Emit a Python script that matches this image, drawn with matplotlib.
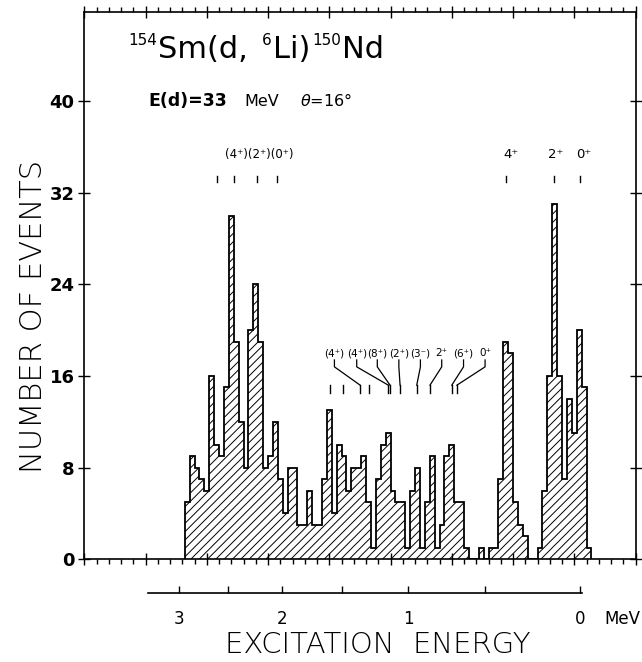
import numpy as np
import matplotlib
matplotlib.use('Agg')
import matplotlib.pyplot as plt
from matplotlib.ticker import MultipleLocator, FixedLocator

# ---------------- data ----------------
counts = [5, 9, 8, 7, 6, 16, 10, 9, 15, 30, 19, 12, 8, 20, 24, 19, 8, 9, 12, 7,
          4, 8, 8, 3, 3, 6, 3, 3, 7, 13, 4, 10, 9, 6, 8, 8, 9, 5, 1, 7,
          10, 11, 6, 5, 5, 1, 6, 8, 1, 5, 9, 1, 3, 9, 10, 5, 5, 1, 0, 0,
          1, 0, 1, 1, 7, 19, 18, 5, 3, 2, 0, 0, 1, 6, 16, 31, 16, 7, 14, 11,
          20, 15, 1]
first_channel = 41
channels_per_bin = 2

y_ticks = [0, 8, 16, 24, 32, 40]
y_tick_labels = ['0', '8', '16', '24', '32', '40']

energy_tick_channels = [38.7, 58.7, 80.7, 105.0, 132.2, 163.6, 202.4]
energy_tick_labels = ['3', '', '2', '', '1', '', '0']
energy_axis_span = [26.2, 203.1]

top_state_channels = [54.1, 61.2, 70.4, 78.6]
top_state_text = '(4\u207a)(2\u207a)(0\u207a)'
top_state_text_channel = 71.4

gs_state_channels = [172.2, 191.8, 202.4]
gs_state_labels = ['4\u207a', '2\u207a', '0\u207a']
gs_label_channels = [174.3, 192.6, 204.0]

mid_tick_channels = [100.3, 105.8, 112.6, 116.4, 124.1, 124.8, 128.9, 135.7, 141.1, 150.0, 152.1]
mid_labels = ['(4\u207a)', '(4\u207a)', '(8\u207a)', '(2\u207a)', '(3\u207b)', '2\u207a', '(6\u207a)', '0\u207a']
mid_label_channels = [102.1, 111.2, 119.6, 128.4, 137.2, 145.9, 154.8, 163.6]
mid_link_channels = [112.6, 124.1, 124.8, 128.9, 135.7, 141.1, 150.0, 152.1]

title_pieces = [('154', 'sup'), ('Sm(d,', 'main'), ('6', 'sup'), ('Li)', 'main'),
                ('150', 'sup'), ('Nd', 'main')]

# ---------------- figure ----------------
plt.rcParams['hatch.linewidth'] = 0.7
plt.rcParams['font.family'] = ['DejaVu Sans']

W, H = 642, 662
fig = plt.figure(figsize=(W / 100, H / 100), dpi=100)
renderer = fig.canvas.get_renderer()

L, R, T, B = 84.3, 635.5, 11.7, 559.3
ax = fig.add_axes([L / W, 1 - B / H, (R - L) / W, (B - T) / H])

edges = first_channel + channels_per_bin * np.arange(len(counts) + 1)
ax.bar(edges[:-1], counts, width=channels_per_bin, align='edge',
       facecolor='white', edgecolor='black', hatch='////', linewidth=0)
ax.stairs(counts, edges, baseline=0, color='black', linewidth=1.3)

ax.set_xlim(0, 225)
ax.set_ylim(0, 47.8)

for s in ax.spines.values():
    s.set_linewidth(1.2)

ax.xaxis.set_major_locator(MultipleLocator(25))
ax.xaxis.set_minor_locator(MultipleLocator(5))
ax.tick_params(axis='x', which='minor', direction='out', length=3.5, width=1.0,
               top=True, bottom=True)
ax.tick_params(axis='x', which='major', direction='inout', length=8, width=1.0,
               top=True, bottom=True, labelbottom=False)
ax.yaxis.set_major_locator(FixedLocator(y_ticks))
ax.set_yticklabels(y_tick_labels)
ax.tick_params(axis='y', which='major', direction='inout', length=8, width=1.0,
               left=True, right=True, labelsize=13, pad=3)
for lab in ax.get_yticklabels():
    lab.set_fontweight('bold')

# annotations: upper states
for c in top_state_channels:
    ax.plot([c, c], [32.9, 33.5], color='black', lw=1.0)
ax.text(top_state_text_channel, 35.3, top_state_text, ha='center', va='center', fontsize=8.5)

for c in gs_state_channels:
    ax.plot([c, c], [32.9, 33.5], color='black', lw=1.0)
for c, t in zip(gs_label_channels, gs_state_labels):
    ax.text(c, 35.3, t, ha='center', va='center', fontsize=9.5)

# middle states
for c in mid_tick_channels:
    ax.plot([c, c], [14.5, 15.2], color='black', lw=1.0)
for lc, tc, t in zip(mid_label_channels, mid_link_channels, mid_labels):
    ax.plot([lc, lc, tc], [17.4, 16.8, 15.2], color='black', lw=0.9)
    ax.text(lc, 17.55, t, ha='center', va='bottom', fontsize=7.5)

# title built from pieces
x_px = 128.0
baseline_px = 58.0
for txt, kind in title_pieces:
    if kind == 'sup':
        t = fig.text(x_px / W, 1 - (baseline_px - 13) / H, txt, fontsize=11,
                     ha='left', va='baseline')
    else:
        t = fig.text(x_px / W, 1 - baseline_px / H, txt, fontsize=22,
                     ha='left', va='baseline')
    bb = t.get_window_extent(renderer=renderer)
    x_px += bb.width + (1 if kind == 'sup' else 2)
    if txt == 'Sm(d,':
        x_px += 12

fig.text(148 / W, 1 - 101 / H, 'E(d)=33', ha='left', va='center', fontsize=12.5, fontweight='bold')
fig.text(244 / W, 1 - 101 / H, 'MeV', ha='left', va='center', fontsize=11.5)
fig.text(300 / W, 1 - 101 / H, r'$\theta$=16°', ha='left', va='center', fontsize=11.5)

fig.text(34 / W, 1 - 316 / H, 'NUMBER OF EVENTS', rotation=90,
         ha='center', va='center', fontsize=22, fontweight='light')

# excitation energy axis
ax2 = fig.add_axes([L / W, 1 - 593 / H, (R - L) / W, 0.0001])
ax2.set_xlim(0, 225)
ax2.set_ylim(0, 1)
for k in ['left', 'right', 'top']:
    ax2.spines[k].set_visible(False)
ax2.spines['bottom'].set_bounds(*energy_axis_span)
ax2.spines['bottom'].set_linewidth(1.2)
ax2.set_yticks([])
ax2.set_xticks(energy_tick_channels)
ax2.set_xticklabels(energy_tick_labels)
ax2.tick_params(axis='x', direction='in', length=5, width=1.0, labelsize=12, pad=12)
ax2.patch.set_visible(False)
ax2.text(219.6, 0, 'MeV', ha='center', va='top', fontsize=12,
         transform=ax2.get_xaxis_transform() +
         matplotlib.transforms.ScaledTranslation(0, -12 / 72, fig.dpi_scale_trans))

fig.text(378 / W, 1 - 645 / H, 'EXCITATION  ENERGY', ha='center', va='center',
         fontsize=21, fontweight='light')

fig.savefig('out.png', dpi=100)
